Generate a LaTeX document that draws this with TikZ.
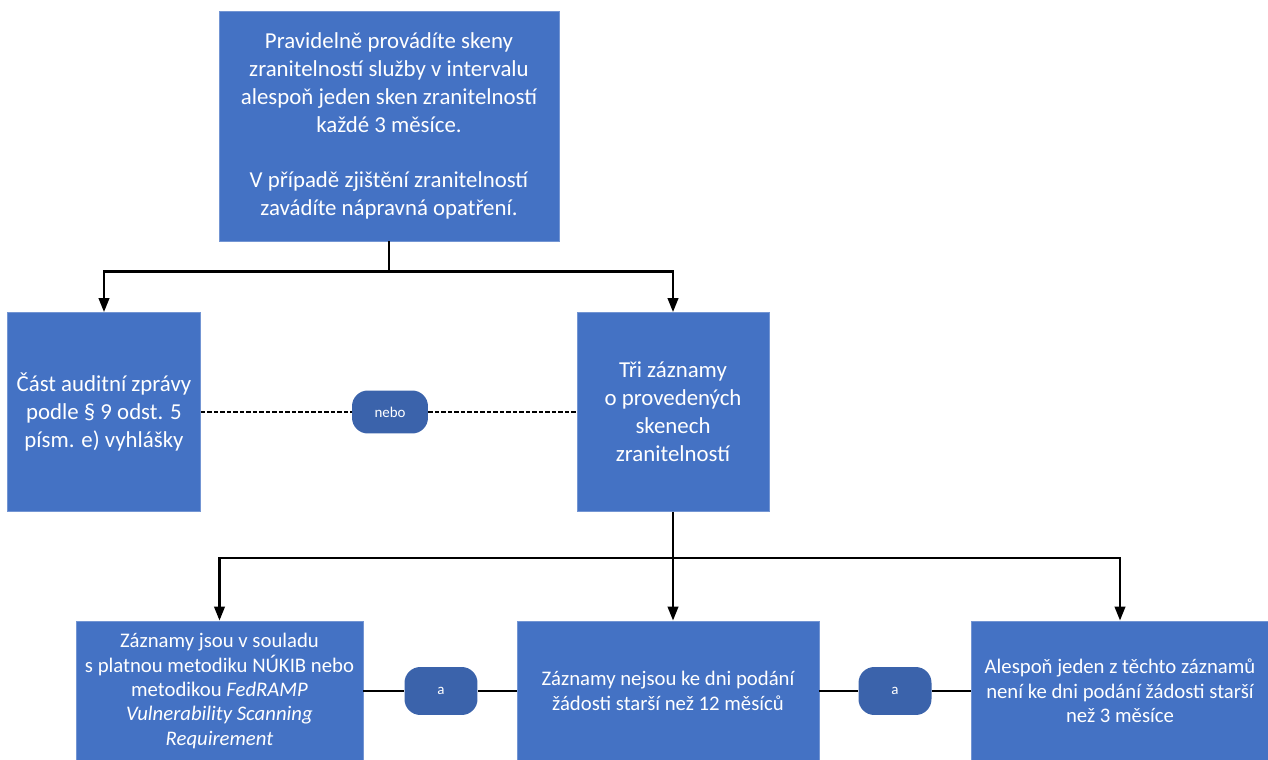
\documentclass[tikz,border=0pt]{standalone}
\usepackage{fontspec}
\setmainfont{Carlito}
\usepackage{xcolor}
\usepackage{tikz}
\usetikzlibrary{arrows.meta, positioning, calc}
\definecolor{boxblue}{HTML}{4472C4}
\definecolor{pillblue}{HTML}{3B63AB}

\begin{document}
\begin{tikzpicture}[
  x=0.02cm, y=-0.02cm,
  blok/.style={rectangle, draw=boxblue!75!white, line width=0.5pt,
               fill=boxblue, text=white, align=center, inner sep=2pt,
               font=\fontsize{13}{15.9}\selectfont},
  blokmaly/.style={blok, font=\fontsize{11.8}{13.9}\selectfont},
  pill/.style={rectangle, rounded corners=9pt, fill=pillblue, text=white,
               font=\fontsize{8.5}{9}\selectfont},
  arr/.style={-{Triangle[width=6pt, length=8pt]}, line width=1.4pt},
  spoj/.style={line width=1.5pt},
  tecky/.style={line width=1.6pt, dash pattern=on 2.4pt off 1.3pt}
]
\useasboundingbox (0,0) rectangle (1268,760);
\clip (0,0) rectangle (1268,760);

% horni uroven
\node[blok, minimum width=6.8cm, minimum height=4.6cm] (skeny) at (389,126)
  {Pravidelně provádíte skeny\\ zranitelností služby v intervalu\\
   alespoň jeden sken zranitelností\\ každé 3 měsíce.\\[15.9pt]
   V případě zjištění zranitelností\\ zavádíte nápravná opatření.};

% stredni uroven
\node[blok, minimum width=3.86cm, minimum height=3.98cm] (audit) at (104,412)
  {Část auditní zprávy\\ podle § 9 odst. 5\\ písm. e) vyhlášky};
\node[blok, minimum width=3.84cm, minimum height=3.98cm] (zaznamy) at (673,412)
  {Tři záznamy\\ o provedených\\ skenech\\ zranitelností};
\node[pill, minimum width=1.52cm, minimum height=0.86cm] (nebo) at (390,412) {nebo};

% spodni uroven
\node[blokmaly, minimum width=5.74cm, minimum height=2.8cm] (metodika) at (219.5,691)
  {Záznamy jsou v souladu\\ s platnou metodiku NÚKIB nebo\\
   metodikou \textit{FedRAMP}\\ \textit{Vulnerability Scanning}\\ \textit{Requirement}};
\node[blokmaly, minimum width=6.04cm, minimum height=2.8cm] (stari) at (668,691)
  {Záznamy nejsou ke dni podání\\ žádosti starší než 12 měsíců};
\node[blokmaly, minimum width=5.96cm, minimum height=2.8cm] (posledni) at (1120,691)
  {Alespoň jeden z těchto záznamů\\ není ke dni podání žádosti starší\\ než 3 měsíce};
\node[pill, minimum width=1.46cm, minimum height=0.96cm] (a1) at (441,691) {a};
\node[pill, minimum width=1.46cm, minimum height=0.96cm] (a2) at (895,691) {a};

% spojnice
\draw[spoj] (skeny.south) -- ++(0,30) coordinate (rozv1);
\draw[arr] (rozv1) -| (audit.north);
\draw[arr] (rozv1) -| (zaznamy.north);
\draw[tecky] (audit) -- (nebo);
\draw[tecky] (nebo) -- (zaznamy);

\draw[spoj] (zaznamy.south) -- ++(0,46) coordinate (rozv2);
\draw[arr] (rozv2) -| (metodika.north);
\draw[arr] (rozv2) -- (rozv2 |- stari.north);
\draw[arr] (rozv2) -| (posledni.north);
\draw[spoj] (metodika) -- (a1);
\draw[spoj] (a1) -- (stari);
\draw[spoj] (stari) -- (a2);
\draw[spoj] (a2) -- (posledni);
\end{tikzpicture}
\end{document}
